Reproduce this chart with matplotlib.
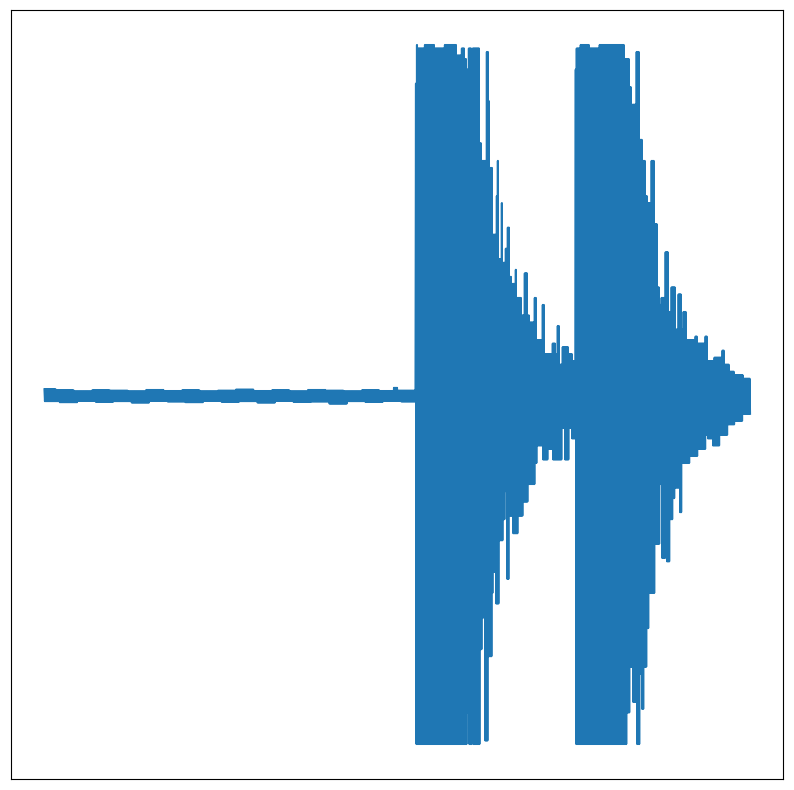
import numpy as np
import matplotlib
matplotlib.use("Agg")
import matplotlib.pyplot as plt

# envelope of the recording
# time in seconds, amplitude normalised to full scale
top_t = [0.00, 0.12, 0.30, 0.48, 0.66, 0.84, 1.02, 1.20, 1.38, 1.56, 1.74,
         1.92, 2.10, 2.28, 2.46, 2.64, 2.82, 3.00, 3.18, 3.36, 3.50, 3.54,
         3.72, 3.73, 3.74, 3.81, 3.91, 4.01, 4.08,
         4.13, 4.18, 4.21, 4.23, 4.25, 4.28, 4.29, 4.36, 4.38, 4.43, 4.45,
         4.46, 4.49, 4.53, 4.54, 4.55, 4.58, 4.59, 4.62, 4.64, 4.66, 4.68,
         4.69, 4.72, 4.73, 4.78, 4.81, 4.84, 4.86, 4.91, 4.93, 4.99, 5.01,
         5.09, 5.12, 5.14, 5.16, 5.19, 5.25, 5.29,
         5.32, 5.33, 5.37, 5.46, 5.56, 5.66, 5.74,
         5.81, 5.86, 5.88, 5.89, 5.93, 5.96, 5.99, 6.02, 6.04, 6.08, 6.11,
         6.14, 6.16, 6.18, 6.22, 6.25, 6.28, 6.32, 6.35, 6.38, 6.40, 6.43,
         6.52, 6.54, 6.62, 6.64, 6.71, 6.79, 6.81, 6.86, 6.91, 7.00]
top_a = [0.020, 0.017, 0.014, 0.017, 0.016, 0.014, 0.018, 0.015, 0.017, 0.014, 0.016,
         0.019, 0.015, 0.017, 0.014, 0.018, 0.016, 0.014, 0.017, 0.015, 0.024, 0.016,
         0.89, 1.00, 0.99, 1.00, 0.99, 1.00, 1.00,
         0.97, 0.99, 0.96, 0.93, 0.99, 0.76, 0.99, 0.72, 0.67, 0.98, 0.84,
         0.65, 0.46, 0.57, 0.67, 0.39, 0.55, 0.38, 0.42, 0.48, 0.34, 0.28,
         0.32, 0.36, 0.28, 0.23, 0.35, 0.23, 0.21, 0.28, 0.16, 0.26, 0.12,
         0.15, 0.12, 0.20, 0.09, 0.14, 0.12, 0.10,
         0.93, 0.99, 1.00, 0.99, 1.00, 1.00, 1.00,
         0.96, 0.88, 0.72, 0.83, 0.98, 0.73, 0.67, 0.57, 0.55, 0.67, 0.49,
         0.31, 0.26, 0.28, 0.41, 0.24, 0.31, 0.19, 0.29, 0.19, 0.24, 0.16,
         0.17, 0.15, 0.17, 0.10, 0.11, 0.13, 0.09, 0.07, 0.06, 0.05]

bot_t = [0.00, 0.15, 0.33, 0.51, 0.69, 0.87, 1.05, 1.23, 1.41, 1.59, 1.77,
         1.95, 2.13, 2.31, 2.49, 2.67, 2.85, 3.03, 3.21, 3.39, 3.57,
         3.72, 4.23, 4.25, 4.28, 4.29, 4.36, 4.38, 4.40, 4.41, 4.44, 4.48,
         4.49, 4.51, 4.52, 4.55, 4.59, 4.61, 4.63, 4.65, 4.69, 4.74, 4.79,
         4.84, 4.91, 4.93, 4.99, 5.04, 5.09, 5.13, 5.18, 5.21, 5.25, 5.28,
         5.32, 5.83, 5.86, 5.89, 5.93, 5.96, 5.98, 6.00, 6.03, 6.05, 6.11,
         6.16, 6.18, 6.22, 6.23, 6.26, 6.29, 6.31, 6.36, 6.38, 6.41, 6.46,
         6.54, 6.59, 6.62, 6.64, 6.69, 6.76, 6.84, 6.91, 6.99]
bot_a = [-0.014, -0.017, -0.013, -0.016, -0.014, -0.018, -0.013, -0.015, -0.017, -0.013, -0.016,
         -0.014, -0.018, -0.013, -0.016, -0.015, -0.021, -0.014, -0.016, -0.013, -0.015,
         -0.99, -0.90, -0.99, -0.78, -0.99, -0.72, -0.63, -0.58, -0.98, -0.74, -0.56,
         -0.50, -0.40, -0.59, -0.41, -0.35, -0.27, -0.52, -0.34, -0.39, -0.34, -0.30,
         -0.25, -0.19, -0.14, -0.18, -0.15, -0.18, -0.18, -0.09, -0.18, -0.09, -0.12,
         -0.99, -0.90, -0.77, -0.87, -0.99, -0.79, -0.89, -0.77, -0.66, -0.56, -0.42,
         -0.25, -0.46, -0.37, -0.47, -0.35, -0.29, -0.26, -0.33, -0.19, -0.19, -0.17,
         -0.15, -0.15, -0.11, -0.12, -0.14, -0.11, -0.08, -0.07, -0.05]

duration = 7.07
dt = 0.005

# samples swing between the upper and lower envelope readings
t = np.arange(0, duration, dt)
hi = np.array(top_a)[np.searchsorted(top_t, t, side='right') - 1]
lo = np.array(bot_a)[np.searchsorted(bot_t, t, side='right') - 1]
signal = np.where(np.arange(len(t)) % 2 == 0, hi, lo)

fig = plt.figure(figsize=(7.94, 7.9), dpi=100)
ax = fig.add_axes([11 / 794, 11 / 790, 772 / 794, 769 / 790])
ax.plot(t, signal)
ax.set_xlim(-0.335, 7.395)
ax.set_xticks([])
ax.set_yticks([])

fig.savefig("out.png", dpi=100)
